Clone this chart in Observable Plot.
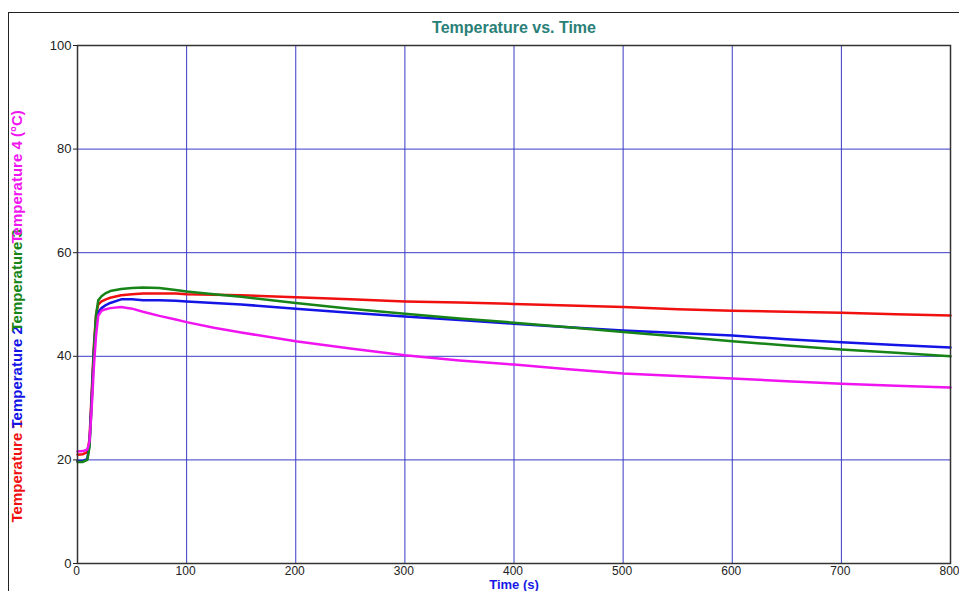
<!DOCTYPE html>
<html>
<head>
<meta charset="utf-8">
<script src="https://cdn.jsdelivr.net/npm/d3@7"></script>
<script src="https://cdn.jsdelivr.net/npm/@observablehq/plot@0.6"></script>
<style>
  html, body { margin: 0; padding: 0; background: #fff; }
  #wrap { position: relative; width: 959px; height: 591px; overflow: hidden; }
  #border { position: absolute; left: 8px; top: 12px; right: -10px; bottom: -10px; border: 1.5px solid #222; pointer-events: none; }
</style>
</head>
<body>
<div id="wrap"><div id="border"></div></div>
<script>
const times = [0, 5, 9, 11, 13, 15, 17, 19, 22, 26, 30, 40, 50, 60, 75, 90, 100, 125, 150, 200, 250, 300, 350, 400, 450, 500, 550, 600, 650, 700, 750, 800];
const temp1 = [21.0, 21.1, 21.5, 24, 33, 42, 48, 50, 50.6, 51.0, 51.3, 51.8, 52.0, 52.1, 52.1, 52.1, 52.0, 51.9, 51.8, 51.4, 51.0, 50.6, 50.4, 50.1, 49.8, 49.5, 49.1, 48.8, 48.6, 48.4, 48.1, 47.9];
const temp2 = [19.8, 19.8, 20.2, 23, 32, 41, 47, 48.5, 49.3, 49.9, 50.3, 51.0, 51.0, 50.8, 50.8, 50.7, 50.6, 50.3, 50.0, 49.2, 48.4, 47.7, 47.0, 46.3, 45.6, 45.0, 44.5, 44.0, 43.3, 42.7, 42.2, 41.7];
const temp3 = [19.6, 19.6, 20.0, 22.5, 31, 41, 48, 50.8, 51.6, 52.2, 52.6, 53.0, 53.2, 53.3, 53.2, 52.8, 52.5, 52.0, 51.5, 50.3, 49.2, 48.2, 47.3, 46.5, 45.6, 44.7, 43.8, 42.9, 42.1, 41.3, 40.7, 40.0];
const temp4 = [21.6, 21.7, 22.0, 23.5, 30, 38, 44, 47.8, 48.8, 49.1, 49.3, 49.5, 49.2, 48.6, 47.8, 47.1, 46.6, 45.5, 44.6, 42.9, 41.5, 40.2, 39.2, 38.4, 37.5, 36.7, 36.2, 35.7, 35.2, 34.7, 34.3, 34.0];
const seriesNames = ["Temperature 1", "Temperature 2", "Temperature 3", "Temperature 4"];
const seriesColors = ["#f01010", "#1414e6", "#168416", "#f014f0"];
const xTicks = [0, 100, 200, 300, 400, 500, 600, 700, 800];
const yTicks = [0, 20, 40, 60, 80, 100];
const xGrid = [100, 200, 300, 400, 500, 600, 700];
const yGrid = [20, 40, 60, 80];
const titleText = "Temperature vs. Time";
const xLabel = "Time (s)";
const yLabels = ["Temperature 1", "Temperature 2", "Temperature 3", "Temperature 4 (°C)"];

const allSeries = [temp1, temp2, temp3, temp4];
const rows = allSeries.flatMap((vals, i) => vals.map((v, j) => ({t: times[j], v, s: seriesNames[i]})));

const yLabelOffsets = [-41, -135, -232, -320];

const chart = Plot.plot({
  width: 959,
  height: 591,
  marginLeft: 77,
  marginRight: 9,
  marginTop: 45,
  marginBottom: 28,
  style: {fontFamily: "Arial, 'Liberation Sans', sans-serif", fontSize: "13px", background: "transparent", color: "#222"},
  x: {domain: [0, 800]},
  y: {domain: [0, 100]},
  color: {domain: seriesNames, range: seriesColors},
  marks: [
    Plot.gridX(xGrid, {stroke: "#3a3ac8", strokeOpacity: 1, strokeWidth: 1}),
    Plot.gridY(yGrid, {stroke: "#3a3ac8", strokeOpacity: 1, strokeWidth: 1}),
    Plot.line(rows, {x: "t", y: "v", z: "s", stroke: "s", strokeWidth: 2.5, strokeLinejoin: "round"}),
    Plot.frame({stroke: "#333", strokeWidth: 1.5}),
    Plot.axisY(yTicks, {tickSize: 4, tickPadding: 2, fontSize: 13, label: null, fill: "#222"}),
    Plot.axisX(xTicks, {tickSize: 0, tickPadding: 3, fontSize: 12, dx: -1, label: null, fill: "#222"}),
    Plot.text([titleText], {frameAnchor: "top", dy: -24, fontSize: 16, fontWeight: "bold", fill: "#2a8078"}),
    Plot.text([xLabel], {frameAnchor: "bottom", dy: 25, fontSize: 13, fontWeight: "bold", fill: "#1a1ae6"}),
    ...yLabels.map((lab, i) => Plot.text([lab], {
      frameAnchor: "bottom-left", dx: -56, dy: yLabelOffsets[i], rotate: -90, textAnchor: "start",
      fontSize: 15, fontWeight: "bold", fill: seriesColors[i]
    }))
  ]
});
document.getElementById("wrap").appendChild(chart);
chart.style.position = "absolute";
chart.style.left = "0";
chart.style.top = "0";
</script>
</body>
</html>
